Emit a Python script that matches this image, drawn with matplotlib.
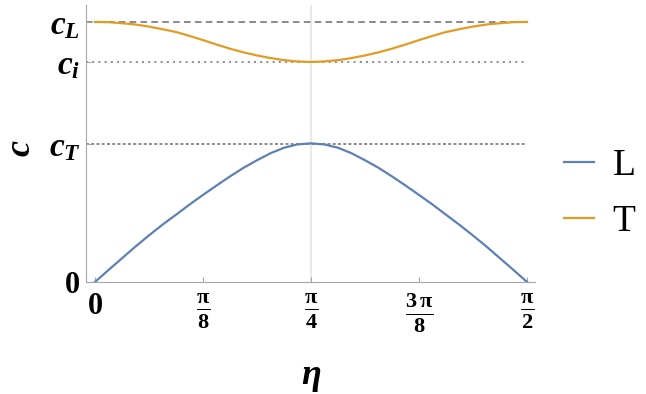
import numpy as np
import matplotlib
matplotlib.use("Agg")
import matplotlib.pyplot as plt

plt.rcParams.update({
    "font.family": "Liberation Serif",
    "font.weight": "bold",
    "mathtext.fontset": "custom",
    "mathtext.rm": "Liberation Serif:bold",
    "mathtext.it": "Liberation Serif:italic:bold",
    "mathtext.bf": "Liberation Serif:bold",
})

# reference speeds, normalised by c_L
C_L = 1.0
C_I = 0.846
C_T = 0.531

# eta in radians (0 .. pi/2)
eta = [0.000, 0.049, 0.098, 0.147, 0.196, 0.245, 0.295, 0.344, 0.393,
       0.442, 0.491, 0.540, 0.589, 0.638, 0.687, 0.736, 0.785,
       0.834, 0.884, 0.933, 0.982, 1.031, 1.080, 1.129, 1.178,
       1.227, 1.276, 1.325, 1.374, 1.424, 1.473, 1.522, 1.571]
c_L_branch = [0.000, 0.046, 0.091, 0.136, 0.179, 0.220, 0.259, 0.298, 0.335,
              0.371, 0.406, 0.439, 0.468, 0.495, 0.516, 0.529, 0.533,
              0.529, 0.516, 0.495, 0.468, 0.439, 0.406, 0.371, 0.335,
              0.298, 0.259, 0.220, 0.179, 0.136, 0.091, 0.046, 0.000]
c_T_branch = [1.000, 0.999, 0.995, 0.990, 0.982, 0.972, 0.961, 0.946, 0.930,
              0.913, 0.897, 0.883, 0.871, 0.861, 0.853, 0.848, 0.846,
              0.848, 0.853, 0.861, 0.871, 0.883, 0.897, 0.913, 0.930,
              0.946, 0.961, 0.972, 0.982, 0.990, 0.995, 0.999, 1.000]

xticks = [0, np.pi / 8, np.pi / 4, 3 * np.pi / 8, np.pi / 2]
xticklabels = ["0", r"$\frac{\mathrm{\pi}}{8}$", r"$\frac{\mathrm{\pi}}{4}$",
               r"$\frac{3\,\mathrm{\pi}}{8}$", r"$\frac{\mathrm{\pi}}{2}$"]
yticks = [0, C_T, C_I, C_L]
yticklabels = ["0", r"$c_T$", r"$c_i$", r"$c_L$"]

BLUE = "#5e81b5"
ORANGE = "#e19c24"
GRAY = "#8a8a8a"
AXC = "#a6a6a6"

W, H = 646, 394
fig = plt.figure(figsize=(W / 100, H / 100), dpi=100)
ax = fig.add_axes([86 / W, 1 - 282 / H, 449 / W, 277 / H])

ax.axvline(np.pi / 4, color="#e2e2e2", lw=1.1, zorder=0)
ax.plot([-0.033, np.pi / 2], [C_L, C_L], color=GRAY, lw=1.4, dashes=(3.4, 2.2), zorder=1)
ax.plot([-0.033, np.pi / 2], [C_I, C_I], color=GRAY, lw=1.4, dashes=(1.0, 2.2), zorder=1)
ax.plot([-0.033, np.pi / 2], [C_T, C_T], color=GRAY, lw=1.4, dashes=(1.5, 1.2), zorder=1)

ax.plot(eta, c_L_branch, color=BLUE, lw=1.6, label="L", zorder=3)
ax.plot(eta, c_T_branch, color=ORANGE, lw=1.6, label="T", zorder=3)

ax.set_xlim(-0.0327, 1.600)
ax.set_ylim(0, 1.065)
for s in ["top", "right"]:
    ax.spines[s].set_visible(False)
for s in ["left", "bottom"]:
    ax.spines[s].set_color(AXC)
    ax.spines[s].set_linewidth(0.8)

ax.set_xticks(xticks)
ax.set_xticklabels(xticklabels, fontsize=23)
ax.set_yticks(yticks)
ax.set_yticklabels(yticklabels, fontsize=24)
ax.get_xticklabels()[0].set_fontsize(22)
ax.get_yticklabels()[0].set_fontsize(22)
ax.tick_params(axis="both", direction="in", length=3.6, width=0.8, color=AXC)
ax.tick_params(axis="x", pad=7)
ax.tick_params(axis="y", pad=4)

fig.text(22 / W, 1 - 148 / H, r"$c$", rotation=90, fontsize=26,
         ha="center", va="center")
fig.text(311 / W, 1 - 377 / H, r"$\eta$", fontsize=26, ha="center", va="center")

fig.legend(loc="center left", bbox_to_anchor=(530 / W, 1 - 194 / H),
           frameon=False, handlelength=0.8, handletextpad=0.5,
           labelspacing=0.58, prop={"family": "Liberation Serif", "weight": "normal", "size": 27})

fig.savefig("out.png", dpi=100)
